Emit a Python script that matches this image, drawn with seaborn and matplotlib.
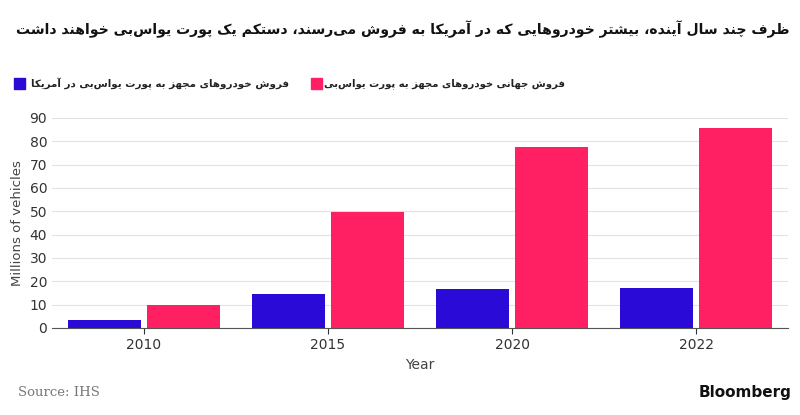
import matplotlib
matplotlib.use("Agg")
import matplotlib.pyplot as plt
import seaborn as sns
import pandas as pd
from matplotlib.patches import Rectangle

# ── Data ──────────────────────────────────────────────────────────────────────
years = ["2010", "2015", "2020", "2022"]
us_sales = [3.5, 14.5, 16.5, 17.0]
global_sales = [10.0, 49.5, 77.5, 85.5]

TITLE = "ظرف چند سال آینده، بیشتر خودروهایی که در آمریکا به فروش می\u200cرسند، دستکم یک پورت یواس\u200cبی خواهند داشت"
LEG_US = "فروش خودروهای مجهز به پورت یواس\u200cبی در آمریکا"
LEG_GLOBAL = "فروش جهانی خودروهای مجهز به پورت یواس\u200cبی"

BLUE = "#2a0ad6"
PINK = "#ff1f63"

# ── Minimal Arabic/Persian shaping (no arabic_reshaper available) ─────────────
DUAL = {
    "ب": 0xFE8F, "ت": 0xFE95, "ث": 0xFE99, "ج": 0xFE9D, "ح": 0xFEA1, "خ": 0xFEA5,
    "س": 0xFEB1, "ش": 0xFEB5, "ص": 0xFEB9, "ض": 0xFEBD, "ط": 0xFEC1, "ظ": 0xFEC5,
    "ع": 0xFEC9, "غ": 0xFECD, "ف": 0xFED1, "ق": 0xFED5, "ل": 0xFEDD, "م": 0xFEE1,
    "ن": 0xFEE5, "ه": 0xFEE9, "ئ": 0xFE89,
    "پ": 0xFB56, "چ": 0xFB7A, "ک": 0xFB8E, "گ": 0xFB92, "ی": 0xFBFC,
}
RIGHT = {
    "ا": 0xFE8D, "آ": 0xFE81, "د": 0xFEA9, "ذ": 0xFEAB, "ر": 0xFEAD, "ز": 0xFEAF,
    "و": 0xFEED, "ژ": 0xFB8A,
}


def shape(text):
    out = []
    n = len(text)
    for i, ch in enumerate(text):
        if ch == "\u200c":
            continue
        if ch not in DUAL and ch not in RIGHT:
            out.append(ch)
            continue
        prev = text[i - 1] if i > 0 else ""
        nxt = text[i + 1] if i + 1 < n else ""
        join_prev = prev in DUAL
        join_next = ch in DUAL and (nxt in DUAL or nxt in RIGHT)
        base = DUAL.get(ch, RIGHT.get(ch))
        if ch in RIGHT:
            form = base + (1 if join_prev else 0)
        else:
            if join_prev and join_next:
                form = base + 3
            elif join_next:
                form = base + 2
            elif join_prev:
                form = base + 1
            else:
                form = base
        out.append(chr(form))
    return "".join(out)[::-1]


df = pd.DataFrame({
    "Year": years * 2,
    "value": us_sales + global_sales,
    "series": ["us"] * len(years) + ["global"] * len(years),
})

plt.rcParams["font.family"] = "DejaVu Sans"
fig = plt.figure(figsize=(8, 4.15), dpi=100)
ax = fig.add_axes([0.065, 0.21, 0.92, 0.506])

sns.barplot(data=df, x="Year", y="value", hue="series", palette=[BLUE, PINK],
            width=0.86, gap=0.08, legend=False, ax=ax, saturation=1)

ax.set_ylim(0, 90)
ax.set_yticks(range(0, 91, 10))
ax.yaxis.grid(True, color="#e2e2e2", linewidth=0.8)
ax.set_axisbelow(True)
for s in ["top", "right", "left"]:
    ax.spines[s].set_visible(False)
ax.spines["bottom"].set_color("#555555")
ax.tick_params(axis="y", length=0, labelsize=10, colors="#333333")
ax.tick_params(axis="x", length=4, labelsize=10, colors="#333333")
ax.set_ylabel("Millions of vehicles", fontsize=9.5, color="#444444")
ax.set_xlabel("Year", fontsize=10, color="#444444")

fig.text(0.987, 0.93, shape(TITLE), ha="right", va="center", fontsize=10.1,
         fontweight="bold", color="#111111")

# legend
fig.patches.append(Rectangle((0.017, 0.785), 0.014, 0.027, transform=fig.transFigure,
                             color=BLUE))
fig.text(0.362, 0.798, shape(LEG_US), ha="right", va="center", fontsize=7.4,
         fontweight="bold", color="#222222")
fig.patches.append(Rectangle((0.389, 0.785), 0.014, 0.027, transform=fig.transFigure,
                             color=PINK))
fig.text(0.706, 0.798, shape(LEG_GLOBAL), ha="right", va="center", fontsize=7.3,
         fontweight="bold", color="#222222")

fig.text(0.022, 0.055, "Source: IHS", ha="left", va="center", fontsize=9.5,
         color="#777777", family="DejaVu Serif")
fig.text(0.99, 0.055, "Bloomberg", ha="right", va="center", fontsize=11,
         fontweight="bold", color="#111111")

fig.savefig("out.png", dpi=100)
